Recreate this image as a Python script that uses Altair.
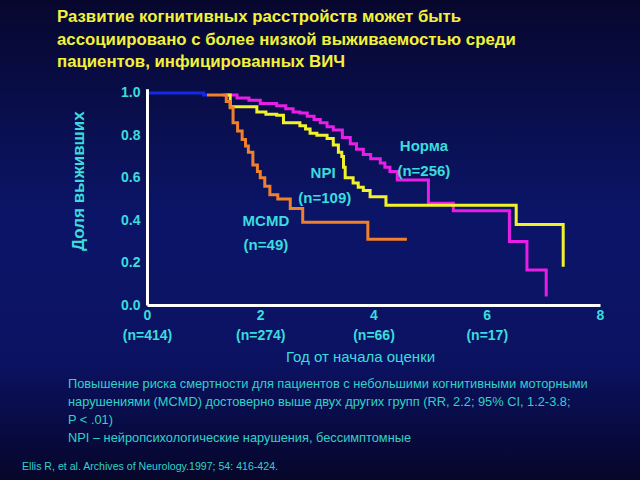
import altair as alt
import pandas as pd

# ---------------- data ----------------
blue_t = [0.0, 1.00, 1.06]
blue_s = [1.0, 0.99, 0.99]

mcmd_t = [1.06, 1.40, 1.47, 1.52, 1.60, 1.68, 1.74, 1.79, 1.87, 1.95, 2.00, 2.08, 2.17, 2.31, 2.53, 2.75, 3.90, 4.59]
mcmd_s = [0.99, 0.96, 0.93, 0.86, 0.82, 0.78, 0.75, 0.72, 0.66, 0.63, 0.60, 0.56, 0.52, 0.50, 0.455, 0.39, 0.31, 0.31]

norm_t = [1.34, 1.59, 1.80, 2.00, 2.29, 2.45, 2.58, 2.70, 2.83, 2.95, 3.06, 3.18, 3.29, 3.45, 3.59, 3.70, 3.82,
          3.95, 4.12, 4.20, 4.29, 4.42, 4.97, 5.41, 6.40, 6.71, 7.05, 7.05]
norm_s = [0.99, 0.976, 0.965, 0.95, 0.94, 0.925, 0.91, 0.905, 0.89, 0.875, 0.86, 0.84, 0.825, 0.79, 0.76, 0.735, 0.71,
          0.69, 0.67, 0.65, 0.63, 0.59, 0.48, 0.445, 0.30, 0.165, 0.04, 0.04]

npi_t = [1.40, 1.47, 1.94, 2.10, 2.29, 2.41, 2.70, 2.80, 2.88, 3.00, 3.18, 3.29, 3.38, 3.44, 3.47, 3.50, 3.64,
         3.73, 3.82, 3.94, 4.22, 6.52, 7.35, 7.35]
npi_s = [0.99, 0.935, 0.91, 0.90, 0.895, 0.86, 0.845, 0.83, 0.81, 0.80, 0.785, 0.755, 0.72, 0.70, 0.65, 0.60, 0.575,
         0.555, 0.54, 0.51, 0.47, 0.38, 0.18, 0.18]

x_ticks = [0, 2, 4, 6, 8]
x_tick_n = ["(n=414)", "(n=274)", "(n=66)", "(n=17)", ""]
y_ticks = [0.0, 0.2, 0.4, 0.6, 0.8, 1.0]

group_labels = ["Норма", "(n=256)", "NPI", "(n=109)", "MCMD", "(n=49)"]
label_year = [4.89, 4.89, 3.11, 3.14, 2.10, 2.10]
label_surv = [0.75, 0.632, 0.622, 0.505, 0.396, 0.283]

title_lines = ["Развитие когнитивных расстройств может быть",
               "ассоциировано с более низкой выживаемостью среди",
               "пациентов, инфицированных ВИЧ"]
note_lines = ["Повышение риска смертности для пациентов с небольшими когнитивными моторными",
              "нарушениями (MCMD) достоверно выше двух других групп (RR, 2.2; 95% CI, 1.2-3.8;",
              "P < .01)",
              "NPI – нейропсихологические нарушения, бессимптомные"]
citation = "Ellis R, et al. Archives of Neurology.1997; 54: 416-424."

# ---------------- layout ----------------
W, H = 453, 216.3
PL, PT = 147, 88.7
CYAN = "#3ADCDC"
FONT = "Liberation Sans"

def curve(t, s, name):
    return pd.DataFrame({"t": t, "s": s, "g": name})

xs = alt.Scale(domain=[0, 8], nice=False)
ys = alt.Scale(domain=[0, 1.02], nice=False)

lab_map = "{" + ",".join(f"'{v}': ['{v}','{n}']" if n else f"'{v}': ['{v}']" for v, n in zip(x_ticks, x_tick_n)) + "}"

x_axis = alt.Axis(
    values=x_ticks, ticks=False, grid=False, domainColor="white", domainWidth=3, zindex=1,
    labelExpr=lab_map + "[datum.label]", labelColor=CYAN, labelFont=FONT, labelFontSize=14,
    labelFontWeight="bold", labelLineHeight=20, labelPadding=3, labelBaseline="top",
    labelFlush=False,
    title="Год от начала оценки", titleColor=CYAN, titleFont=FONT, titleFontSize=15,
    titleFontWeight="normal", titleX=213, titleY=51, titleBaseline="middle", titleAlign="center")
y_axis = alt.Axis(
    values=y_ticks, format=".1f", ticks=False, grid=False, domainColor="white", domainWidth=3, zindex=1,
    labelColor=CYAN, labelFont=FONT, labelFontSize=14, labelFontWeight="bold", labelPadding=7,
    title="Доля выживших", titleColor=CYAN, titleFont=FONT, titleFontSize=17, titleFontWeight="bold",
    titleAngle=-90, titleX=-69, titleY=92, titleAlign="center", titleBaseline="middle")

X = alt.X("t:Q", scale=xs, axis=x_axis)
Y = alt.Y("s:Q", scale=ys, axis=y_axis)

def line(df, color):
    return alt.Chart(df).mark_line(interpolate="step-after", color=color, strokeWidth=3,
                                   strokeJoin="miter").encode(x=X, y=Y)

bg = alt.Chart(pd.DataFrame({"a": [0]})).mark_rect(
    color=alt.Gradient(gradient="linear", x1=0, y1=0, x2=0, y2=1,
                       stops=[alt.GradientStop(offset=0, color="#07072e"),
                              alt.GradientStop(offset=0.45, color="#0b1568"),
                              alt.GradientStop(offset=0.75, color="#0b1262"),
                              alt.GradientStop(offset=1, color="#06062a")])
).encode(x=alt.value(-PL), x2=alt.value(640 - PL), y=alt.value(-PT), y2=alt.value(480 - PT))

lbl_df = pd.DataFrame({"t": label_year, "s": label_surv, "txt": group_labels})
labels = alt.Chart(lbl_df).mark_text(color=CYAN, font=FONT, fontSize=15, fontWeight="bold",
                                     baseline="middle", align="center").encode(
    x=X, y=Y, text="txt:N")

def free_text(txt, x, y, size, color, weight="normal", align="left"):
    return alt.Chart(pd.DataFrame({"txt": [txt]})).mark_text(
        color=color, font=FONT, fontSize=size, fontWeight=weight, align=align, baseline="middle"
    ).encode(x=alt.value(x), y=alt.value(y), text="txt:N")

texts = []
for i, ln in enumerate(title_lines):
    texts.append(free_text(ln, 57 - PL, [17, 40, 62][i] - PT, 16.8, "#F2F23A", "bold"))
for i, ln in enumerate(note_lines):
    texts.append(free_text(ln, 68 - PL, 384 + 18 * i - PT, 12.8, "#30D2C8"))
texts.append(free_text(citation, 22 - PL, 467 - PT, 10.6, "#30D2C8"))

chart = alt.layer(
    bg,
    line(curve(norm_t, norm_s, "norm"), "#E81EE8"),
    line(curve(npi_t, npi_s, "npi"), "#F2F22A"),
    line(curve(mcmd_t, mcmd_s, "mcmd"), "#F0802A"),
    line(curve(blue_t, blue_s, "all"), "#1428E6"),
    labels, *texts
).properties(
    width=W, height=H,
    autosize=alt.AutoSizeParams(type="none"),
    padding={"left": PL, "top": PT, "right": 640 - PL - W, "bottom": 480 - PT - H},
    background="#0a0e4a",
).configure_view(stroke=None)

chart.save("out.html", embed_options={"renderer": "svg", "actions": False})
